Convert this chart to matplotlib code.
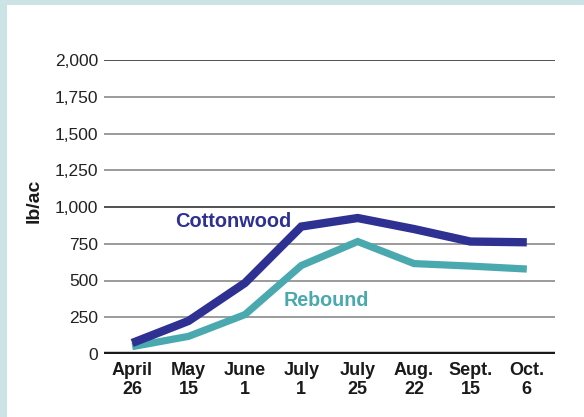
import matplotlib
matplotlib.use("Agg")
import matplotlib.pyplot as plt
from matplotlib.patches import Rectangle

# data
dates = ["April\n26", "May\n15", "June\n1", "July\n1", "July\n25", "Aug.\n22", "Sept.\n15", "Oct.\n6"]
cottonwood = [75, 225, 483, 867, 925, 850, 765, 760]
rebound = [50, 120, 268, 602, 765, 615, 598, 578]
yticks = [0, 250, 500, 750, 1000, 1250, 1500, 1750, 2000]

plt.rcParams["font.family"] = ["Liberation Sans", "DejaVu Sans"]

blue = "#2e3192"
teal = "#4aa9ae"

fig = plt.figure(figsize=(5.84, 4.17), dpi=100)
fig.patch.set_facecolor("#cce3e6")
fig.patches.append(Rectangle((7 / 584, 0), 1, 1 - 5 / 417, transform=fig.transFigure,
                             facecolor="white", edgecolor="none", zorder=-10))

ax = fig.add_axes([104 / 584, 1 - 354 / 417, (555 - 104) / 584, (354 - 60) / 417])
ax.set_facecolor("none")

x = list(range(len(dates)))

for t in yticks[1:]:
    c = "#333333" if t in (1000, 2000) else "#8a8a8a"
    ax.axhline(t, color=c, lw=1.2, zorder=1)
ax.axhline(0, color="#1a1a1a", lw=3.2, zorder=4)

ax.plot(x, rebound, color=teal, lw=5.2, solid_joinstyle="miter", solid_capstyle="butt", zorder=2)
ax.plot(x, cottonwood, color=blue, lw=6.0, solid_joinstyle="miter", solid_capstyle="butt", zorder=3)

ax.text(1.79, 898, "Cottonwood", color=blue, fontsize=14.4, fontweight="bold", ha="center", va="center")
ax.text(3.45, 363, "Rebound", color=teal, fontsize=14.2, fontweight="bold", ha="center", va="center")

ax.set_xlim(-0.5, 7.5)
ax.set_ylim(0, 2000)
ax.set_xticks(x)
ax.set_xticklabels(dates, fontsize=13, fontweight="bold", color="#1a1a1a", linespacing=1.15)
ax.set_yticks(yticks)
ax.set_yticklabels([f"{t:,}" for t in yticks], fontsize=12.5, color="#222222")
ax.tick_params(axis="both", length=0)
ax.tick_params(axis="y", pad=4)
ax.tick_params(axis="x", pad=6)
for s in ax.spines.values():
    s.set_visible(False)
ax.set_ylabel("lb/ac", fontsize=14, fontweight="bold", color="#1a1a1a")
ax.yaxis.set_label_coords(-0.137, 0.52)

fig.savefig("out.png", dpi=100, facecolor=fig.get_facecolor())
